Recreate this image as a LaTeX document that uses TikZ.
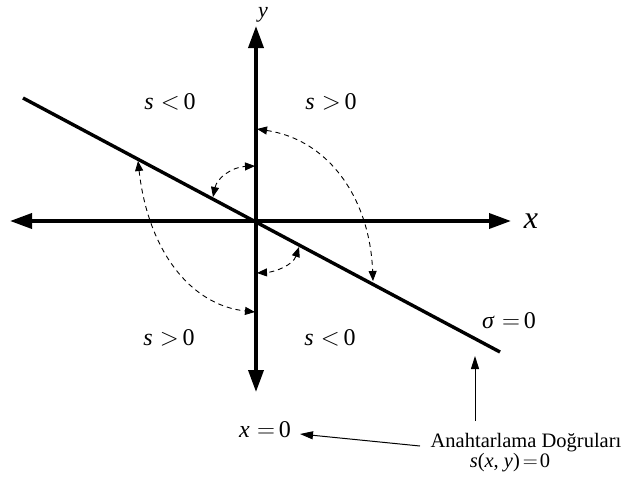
\documentclass[tikz,border=0pt]{standalone}
\usepackage{fontspec}
\setmainfont{Liberation Serif}
\usetikzlibrary{arrows.meta}
\newcommand{\rel}[1]{\hspace{0.3em}$#1$\hspace{0.16em}}
\tikzset{
  axisline/.style={line width=3.6pt,{Triangle[length=22pt,width=15pt]}-{Triangle[length=22pt,width=15pt]}},
  swline/.style={line width=3.4pt},
  dasharc/.style={line width=0.9pt,dash pattern=on 5pt off 4pt,{Triangle[length=10pt,width=8pt]}-{Triangle[length=10pt,width=8pt]}},
  leader/.style={line width=1pt,-{Triangle[length=13pt,width=8pt]}},
  lab/.style={inner sep=0pt,anchor=base,font=\fontsize{24}{26}\selectfont},
  xlabst/.style={inner sep=0pt,anchor=base,font=\fontsize{32}{34}\selectfont\itshape},
  ylabst/.style={inner sep=0pt,anchor=base,text height=11pt,text depth=5pt,font=\fontsize{22}{24}\selectfont\itshape},
  txt/.style={inner sep=0pt,anchor=base,font=\fontsize{20.5}{23}\selectfont}
}
\begin{document}
\begin{tikzpicture}[x=1pt,y=-1pt]
\useasboundingbox (0,0) rectangle (624,493);
% axes
\coordinate (O) at (256,221);
\coordinate (ytop) at (256,26);
\coordinate (ybot) at (256,392);
\coordinate (xl) at (10,221);
\coordinate (xr) at (511,221);
\draw[axisline] (ybot) -- (ytop);
\draw[axisline] (xl) -- (xr);
% switching line
\coordinate (s1) at (23,98);
\coordinate (s2) at (500,352);
\draw[swline] (s1) -- (s2);
% labels
\node[ylabst] (ylab) at (263,17) {y};
\node[xlabst] (xlab) at (531,228) {x};
\node[lab] (q1) at (170,109) {\textit{s}\rel{<}0};
\node[lab] (q2) at (331,109) {\textit{s}\rel{>}0};
\node[lab] (q3) at (169,345) {\textit{s}\rel{>}0};
\node[lab] (q4) at (330,345) {\textit{s}\rel{<}0};
\node[lab] (sig) at (509,328) {\textit{σ}\rel{=}0};
\node[lab] (xz) at (265,437) {\textit{x}\rel{=}0};
\node[txt] (ad) at (526,447) {Anahtarlama Doğruları};
\node[txt] (sxy) at (510,467) {\textit{s}(\textit{x}, \textit{y})\hspace{0.15em}$=$\hspace{0.1em}0};
% dashed arcs
\coordinate (a1) at (213,197);
\coordinate (b1) at (255,166);
\draw[dasharc] (a1) .. controls (217,178) and (232,167) .. (b1);
\coordinate (a2) at (257,129);
\coordinate (b2) at (373,281);
\draw[dasharc] (a2) .. controls (330,140) and (370,200) .. (b2);
\coordinate (a3) at (299,247);
\coordinate (b3) at (257,273);
\draw[dasharc] (a3) .. controls (293,265) and (275,272) .. (b3);
\coordinate (a4) at (138,161);
\coordinate (b4) at (255,312);
\draw[dasharc] (a4) .. controls (148,250) and (190,305) .. (b4);
% leaders
\coordinate (la) at (420,446);
\coordinate (lb) at (300,434);
\draw[leader] (la) -- (lb);
\coordinate (va) at (475,421);
\coordinate (vb) at (475,356);
\draw[leader] (va) -- (vb);
\end{tikzpicture}
\end{document}
